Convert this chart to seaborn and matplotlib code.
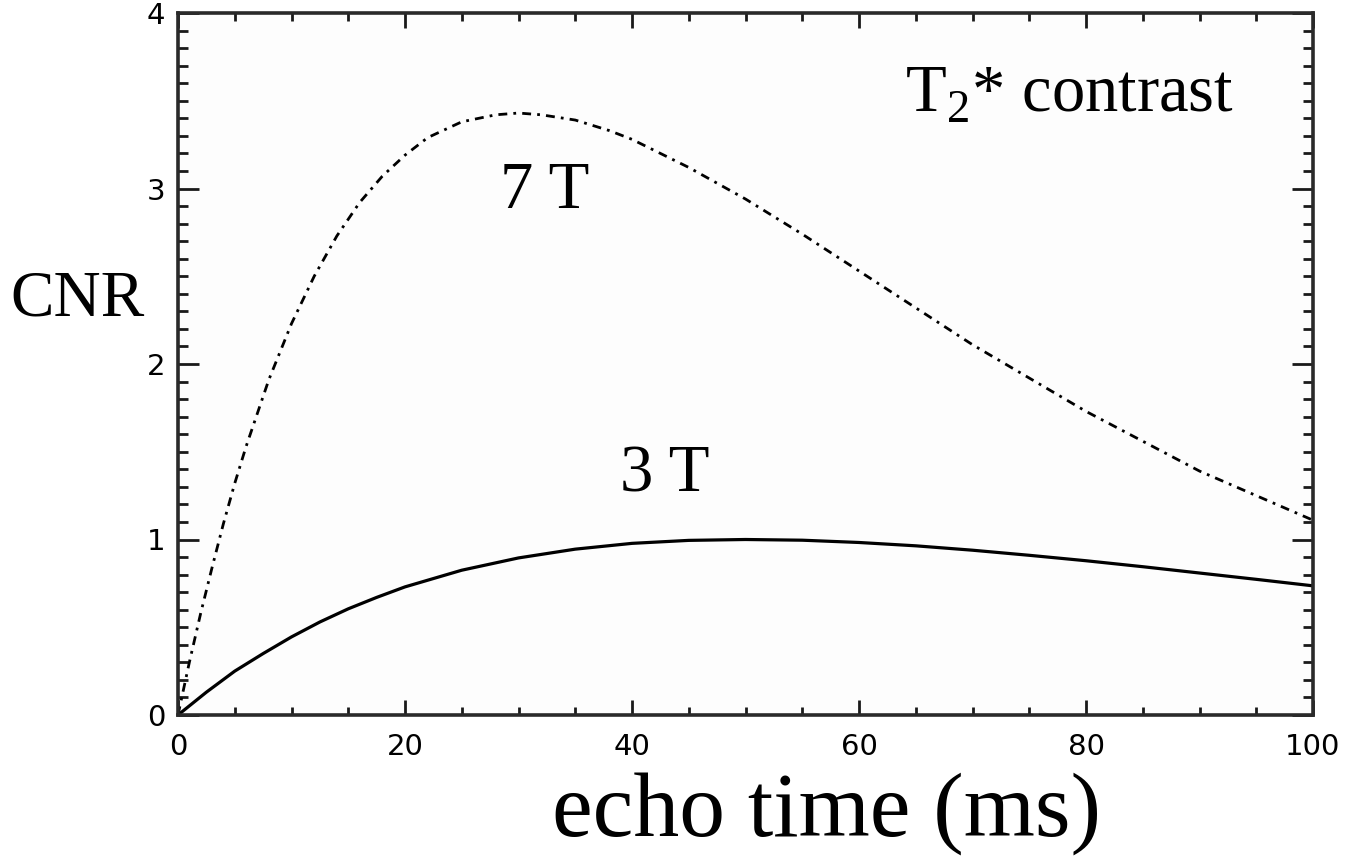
import matplotlib
matplotlib.use("Agg")
import matplotlib.pyplot as plt
import seaborn as sns
import pandas as pd
from matplotlib.ticker import MultipleLocator

# ---- data ----
te_7t = [0, 1, 2, 3, 4, 5, 6, 8, 10, 12, 14, 16, 18, 20, 22, 25, 28, 30, 32, 35,
         38, 40, 45, 50, 55, 60, 65, 70, 75, 80, 85, 90, 95, 100]
cnr_7t = [0.0, 0.30, 0.58, 0.84, 1.09, 1.32, 1.53, 1.91, 2.23, 2.50, 2.73, 2.92,
          3.07, 3.19, 3.29, 3.38, 3.42, 3.43, 3.42, 3.39, 3.33, 3.28, 3.12, 2.94,
          2.74, 2.53, 2.32, 2.11, 1.92, 1.73, 1.56, 1.39, 1.25, 1.11]

te_3t = [0, 2.5, 5, 7.5, 10, 12.5, 15, 17.5, 20, 25, 30, 35, 40, 45, 50, 55, 60,
         65, 70, 75, 80, 85, 90, 95, 100]
cnr_3t = [0.0, 0.13, 0.25, 0.35, 0.445, 0.53, 0.605, 0.67, 0.73, 0.825, 0.895,
          0.945, 0.978, 0.995, 1.0, 0.996, 0.983, 0.964, 0.939, 0.91, 0.879,
          0.845, 0.809, 0.773, 0.736]

x_ticks = [0, 20, 40, 60, 80, 100]
y_ticks = [0, 1, 2, 3, 4]

df7 = pd.DataFrame({"te": te_7t, "cnr": cnr_7t})
df3 = pd.DataFrame({"te": te_3t, "cnr": cnr_3t})

sns.set_style("ticks")
plt.rcParams["font.family"] = ["DejaVu Sans"]
plt.rcParams["mathtext.fontset"] = "custom"
plt.rcParams["mathtext.rm"] = "Liberation Serif"
plt.rcParams["text.color"] = "black"
plt.rcParams["xtick.labelcolor"] = "black"
plt.rcParams["ytick.labelcolor"] = "black"

W, H = 1359, 856
fig = plt.figure(figsize=(W / 100, H / 100), dpi=100)
fig.patch.set_facecolor("white")
ax = fig.add_axes([178 / W, 1 - 715 / H, (1313 - 178) / W, (715 - 13) / H])
ax.set_facecolor("#fdfdfd")

sns.lineplot(data=df7, x="te", y="cnr", ax=ax, color="black", linewidth=2.0,
             linestyle=(0, (3.2, 2.2, 1.0, 2.2)))
sns.lineplot(data=df3, x="te", y="cnr", ax=ax, color="black", linewidth=2.3)

ax.set_xlim(0, 100)
ax.set_ylim(0, 4)
ax.set_xticks(x_ticks)
ax.set_yticks(y_ticks)
ax.xaxis.set_minor_locator(MultipleLocator(5))
ax.yaxis.set_minor_locator(MultipleLocator(0.1))
ax.set_xlabel("")
ax.set_ylabel("")

for s in ax.spines.values():
    s.set_linewidth(2.6)
    s.set_color("#2a2a2a")
    s.set_visible(True)

ax.tick_params(axis="both", which="both", direction="in", top=True, right=True,
               color="#1a1a1a", width=2.0)
ax.tick_params(axis="x", which="major", length=11, labelsize=21, pad=13)
ax.tick_params(axis="x", which="minor", length=5.5)
ax.tick_params(axis="y", which="major", length=15, labelsize=21, pad=9)
ax.tick_params(axis="y", which="minor", length=7)

serif = ["Liberation Serif", "DejaVu Serif"]
fig.text(10 / W, 1 - 315 / H, "CNR", family=serif, fontsize=47, ha="left",
         va="baseline")
fig.text(826 / W, 1 - 836 / H, "echo time (ms)", family=serif, fontsize=66,
         ha="center", va="baseline")
fig.text(905 / W, 1 - 112 / H, r"T$_\mathregular{2}$* contrast", family=serif,
         fontsize=48, ha="left", va="baseline")
fig.text(500 / W, 1 - 208 / H, "7 T", family=serif, fontsize=48, ha="left",
         va="baseline")
fig.text(620 / W, 1 - 492 / H, "3 T", family=serif, fontsize=48, ha="left",
         va="baseline")

fig.savefig("out.png", dpi=100)
